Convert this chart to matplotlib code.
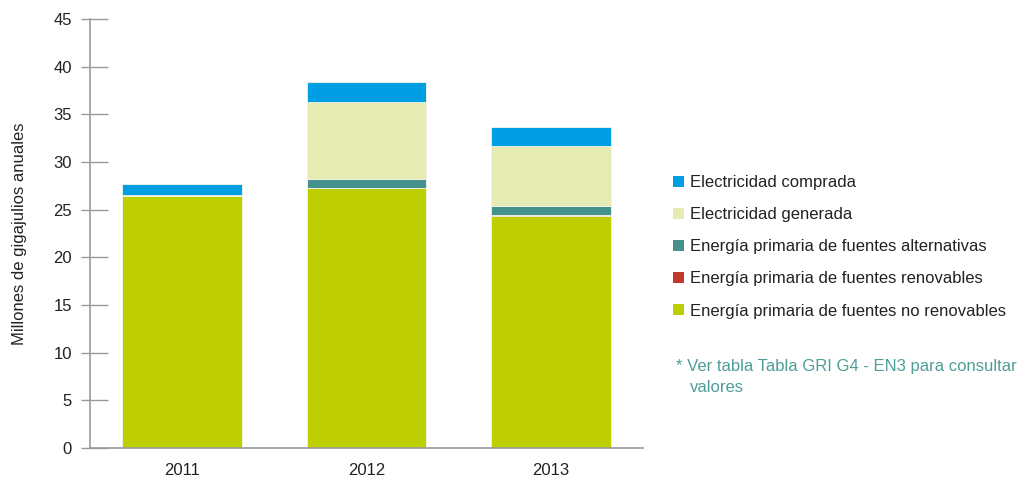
import matplotlib
matplotlib.use("Agg")
import matplotlib.pyplot as plt
from matplotlib.patches import Patch
import numpy as np

plt.rcParams['font.family'] = ['Liberation Sans', 'DejaVu Sans']

years = ["2011", "2012", "2013"]
no_renovables = [26.4, 27.3, 24.3]
renovables = [0.0, 0.0, 0.12]
alternativas = [0.0, 0.9, 0.95]
generada = [0.1, 8.05, 6.35]
comprada = [1.2, 2.15, 2.0]

series = [
    ("Energía primaria de fuentes no renovables", no_renovables, "#BDCF00"),
    ("Energía primaria de fuentes renovables", renovables, "#C0392B"),
    ("Energía primaria de fuentes alternativas", alternativas, "#45918D"),
    ("Electricidad generada", generada, "#E6EBB4"),
    ("Electricidad comprada", comprada, "#009FE3"),
]

W, H = 1028, 484
fig = plt.figure(figsize=(W / 100, H / 100), dpi=100)
ax = fig.add_axes([90 / W, (H - 448) / H, (643 - 90) / W, (448 - 19) / H])

x = np.arange(len(years))
bottom = np.zeros(len(years))
for name, vals, col in series:
    v = np.array(vals)
    ax.bar(x, v, width=0.65, bottom=bottom, color=col, edgecolor="#f4f6e6",
           linewidth=0.6, label=name)
    bottom += v

ax.set_xlim(-0.5, 2.5)
ax.set_ylim(0, 45)
ax.set_yticks(np.arange(0, 46, 5))
ax.set_xticks(x)
ax.set_xticklabels(years)

for s in ["top", "right"]:
    ax.spines[s].set_visible(False)
for s in ["left", "bottom"]:
    ax.spines[s].set_color("#9a9a9a")
    ax.spines[s].set_linewidth(1.2)

ax.yaxis.remove_overlapping_locs = False
ax.set_yticks(np.arange(0, 46, 5), minor=True)
ax.tick_params(axis="y", which="major", direction="in", length=13, width=1.0,
               color="#9a9a9a", labelsize=12, labelcolor="#222222", pad=13)
ax.tick_params(axis="y", which="minor", direction="out", length=6.5, width=1.0,
               color="#9a9a9a")
ax.tick_params(axis="x", length=0, labelsize=12, labelcolor="#222222", pad=11)

ax.set_ylabel("Millones de gigajulios anuales", fontsize=12, color="#222222")
ax.yaxis.set_label_coords(-63 / (643 - 90), 0.5)

handles = [Patch(facecolor=col, edgecolor="none", label=name)
           for name, vals, col in series[::-1]]
fig.legend(handles=handles, loc="upper left",
           bbox_to_anchor=(658 / W, 1 - 160 / H), frameon=False,
           fontsize=12, handlelength=0.65, handleheight=0.65,
           handletextpad=0.35, labelspacing=1.03, labelcolor="#222222")

fig.text(676 / W, 1 - 367 / H, "* Ver tabla Tabla GRI G4 - EN3 para consultar",
         fontsize=12, color="#4E9D98", va="center", ha="left")
fig.text(690 / W, 1 - 388 / H, "valores",
         fontsize=12, color="#4E9D98", va="center", ha="left")

fig.savefig("out.png", dpi=100)
